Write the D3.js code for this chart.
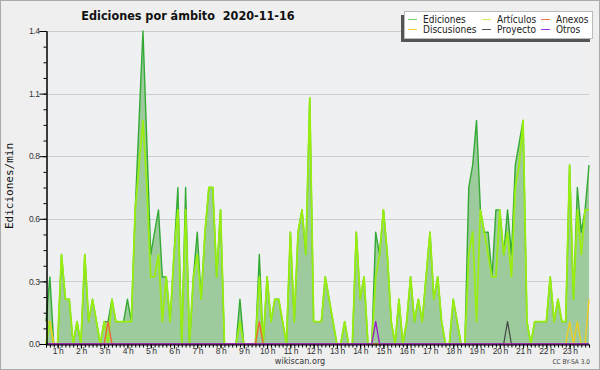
<!DOCTYPE html>
<html>
<head>
<meta charset="utf-8">
<script src="https://cdn.jsdelivr.net/npm/d3@7"></script>
<style>
  body { margin: 0; background: #fff; }
  svg { display: block; font-family: "DejaVu Sans Condensed", "DejaVu Sans", sans-serif; font-stretch: condensed; }
</style>
</head>
<body>
<svg id="chart"></svg>
<script>
// minutos desde medianoche del primer punto, paso de 10 min
const startMin = 30;
const stepMin = 10;

// Ediciones totales por minuto (una cada 10 min)
const ediciones = [
  0.1, 0.3, 0, 0, 0.4, 0.2, 0.2, 0, 0.1, 0,
  0.4, 0.1, 0.2, 0.1, 0, 0.1, 0.1, 0.2, 0.1, 0.1,
  0.1, 0.2, 0.1, 0.6, 1.0, 1.4, 0.9, 0.4, 0.5, 0.6,
  0.3, 0.3, 0.1, 0.4, 0.7, 0, 0.7, 0, 0.3, 0.5,
  0.2, 0.5, 0.7, 0.7, 0.3, 0.6, 0, 0, 0, 0,
  0.2, 0, 0, 0, 0, 0.4, 0, 0.3, 0.1, 0.2,
  0.2, 0.1, 0, 0.5, 0.1, 0.5, 0.6, 0.4, 1.1, 0.1,
  0.1, 0.1, 0.3, 0.2, 0.1, 0, 0, 0.1, 0, 0,
  0.5, 0.2, 0.3, 0, 0, 0.5, 0.4, 0.6, 0.4, 0.1,
  0, 0.2, 0, 0.1, 0.3, 0.1, 0.2, 0.1, 0.3, 0.5,
  0.2, 0.3, 0.1, 0, 0, 0.2, 0.1, 0, 0, 0.7,
  0.8, 1.0, 0.6, 0.5, 0.5, 0.3, 0.6, 0.6, 0.4, 0.6,
  0.4, 0.8, 0.9, 1.0, 0.1, 0, 0.1, 0.1, 0.1, 0.1,
  0.3, 0.1, 0.2, 0.1, 0.1, 0.8, 0.2, 0.7, 0.5, 0.6,
  0.8
];

const articulos = [
  0, 0.1, 0, 0, 0.4, 0.2, 0.2, 0, 0.1, 0,
  0.4, 0.1, 0.2, 0.1, 0, 0.1, 0, 0.2, 0.1, 0.1,
  0.1, 0.1, 0.1, 0.6, 0.8, 1.0, 0.7, 0.3, 0.3, 0.4,
  0.1, 0.3, 0.1, 0.4, 0.6, 0, 0.6, 0, 0.3, 0.4,
  0.2, 0.5, 0.7, 0.7, 0.3, 0.6, 0, 0, 0, 0,
  0.1, 0, 0, 0, 0, 0.3, 0, 0.3, 0.1, 0.2,
  0.2, 0.1, 0, 0.5, 0.1, 0.5, 0.6, 0.4, 1.1, 0.1,
  0.1, 0.1, 0.3, 0.2, 0.1, 0, 0, 0.1, 0, 0,
  0.5, 0.2, 0.3, 0, 0, 0.3, 0.4, 0.6, 0.4, 0.1,
  0, 0.2, 0, 0.1, 0.3, 0.1, 0.2, 0.1, 0.3, 0.5,
  0.2, 0.3, 0.1, 0, 0, 0.2, 0.1, 0, 0, 0.4,
  0.5, 0.1, 0.6, 0.5, 0.4, 0.3, 0.3, 0.6, 0.4, 0.5,
  0.3, 0.7, 0.8, 1.0, 0.1, 0, 0.1, 0.1, 0.1, 0.1,
  0.3, 0.1, 0.2, 0.1, 0.1, 0.8, 0.2, 0.6, 0.4, 0.6,
  0.6
];

// series pequeñas: [índice, valor]
const anexos = [[16, 0.1], [55, 0.1]];
const discusiones = [[0, 0.1], [1, 0.1], [135, 0.1], [137, 0.1], [140, 0.2]];
const proyecto = [[119, 0.1]];
const otros = [[85, 0.1]];

const yTicksMajor = [0, 0.28, 0.56, 0.84, 1.12, 1.4];
const hourLabels = d3.range(1, 24);

const legendItems = [
  { name: 'Ediciones', color: '#77cc77' },
  { name: 'Artículos', color: '#ccee55' },
  { name: 'Anexos', color: '#ee7744' },
  { name: 'Discusiones', color: '#ffcc33' },
  { name: 'Proyecto', color: '#555555' },
  { name: 'Otros', color: '#9933ee' }
];

const width = 600, height = 370;
const svg = d3.select('#chart').attr('width', width).attr('height', height);

// fondo y marco
svg.append('rect').attr('width', width).attr('height', height).attr('fill', '#efefef');
svg.append('rect').attr('x', 0.5).attr('y', 0.5).attr('width', width - 1).attr('height', height - 1)
  .attr('fill', 'none').attr('stroke', '#aaa');

const x = d3.scaleLinear().domain([startMin, startMin + stepMin * (ediciones.length - 1)]).range([46, 589]);
const y = d3.scaleLinear().domain([0, 1.4]).range([344, 31]);
const tOf = i => startMin + i * stepMin;

// fondo del área de trazado
svg.append('rect').attr('x', 46).attr('y', 31).attr('width', 543).attr('height', 313).attr('fill', '#eef0f2');

// rejilla
svg.append('g').selectAll('line').data(yTicksMajor.slice(1)).enter().append('line')
  .attr('x1', 46).attr('x2', 589)
  .attr('y1', d => Math.round(y(d)) + 0.5).attr('y2', d => Math.round(y(d)) + 0.5)
  .attr('stroke', '#cccccc');

// serie completa desde puntos sueltos
function fullSeries(points) {
  const arr = ediciones.map(() => 0);
  points.forEach(([i, v]) => arr[i] = v);
  return arr;
}

const area = d3.area().x((d, i) => x(tOf(i))).y0(y(0)).y1(d => y(d));
const line = d3.line().x((d, i) => x(tOf(i))).y(d => y(d));

svg.append('path').datum(ediciones).attr('d', area).attr('fill', '#9ecb9e');

function drawLine(data, color, w) {
  svg.append('path').datum(data).attr('d', line)
    .attr('fill', 'none').attr('stroke', color).attr('stroke-width', w)
    .attr('stroke-linejoin', 'round');
}

drawLine(ediciones, '#33aa33', 1.4);
drawLine(articulos, '#99ee11', 1.8);
drawLine(fullSeries(discusiones), '#eecc22', 1.4);
drawLine(fullSeries(anexos), '#ee6633', 1.4);
drawLine(fullSeries(proyecto), '#444444', 1.2);
drawLine(fullSeries(otros), '#9922cc', 1.4);

// eje Y
const yAxisG = svg.append('g').attr('transform', 'translate(46.5,0)');
yAxisG.call(d3.axisLeft(y).tickValues(d3.range(0, 21).map(k => k * 0.07)).tickSize(3).tickFormat(''));
yAxisG.append('g').call(d3.axisLeft(y).tickValues(yTicksMajor).tickSize(7).tickFormat(d3.format('.1f')));
yAxisG.selectAll('.domain').attr('stroke', '#000');
yAxisG.selectAll('line').attr('stroke', '#000');
yAxisG.selectAll('text').attr('font-size', 8.5).attr('fill', '#333').attr('x', -7)
  .attr('font-family', null).attr('letter-spacing', -0.4);

// eje X
const xAxisG = svg.append('g').attr('transform', 'translate(0,344.5)');
xAxisG.call(d3.axisBottom(x).tickValues(ediciones.map((d, i) => tOf(i))).tickSize(3).tickFormat(''));
xAxisG.selectAll('.domain').attr('stroke', '#000');
const xLab = svg.append('g').attr('transform', 'translate(0,344.5)');
xLab.call(d3.axisBottom(x).tickValues(hourLabels.map(h => h * 60)).tickSize(4).tickFormat(d => (d / 60) + ' h'));
xLab.select('.domain').remove();
xAxisG.selectAll('line').attr('stroke', '#000');
xLab.selectAll('line').attr('stroke', '#000');
xLab.selectAll('text').attr('font-size', 8.5).attr('fill', '#333').attr('y', 3)
  .attr('font-family', null).attr('letter-spacing', -0.4);

// título
svg.append('text').attr('x', 188).attr('y', 20).attr('text-anchor', 'middle')
  .attr('font-size', 12.5).attr('font-weight', 'bold').attr('fill', '#111')
  .style('white-space', 'pre')
  .text('Ediciones por ámbito  2020-11-16');

// etiqueta eje Y
svg.append('text').attr('transform', 'translate(13,186) rotate(-90)').attr('text-anchor', 'middle')
  .attr('font-size', 11).attr('font-family', '"DejaVu Sans Mono", monospace')
  .style('font-stretch', 'normal').attr('fill', '#111')
  .text('Ediciones/min');

// pie
svg.append('text').attr('x', 300).attr('y', 364).attr('text-anchor', 'middle')
  .attr('font-size', 9).attr('fill', '#333').text('wikiscan.org');
svg.append('text').attr('x', 590).attr('y', 364).attr('text-anchor', 'end')
  .attr('font-size', 6.5).attr('fill', '#444').text('CC BY-SA 3.0');

// leyenda
const lg = svg.append('g');
lg.append('rect').attr('x', 401).attr('y', 15).attr('width', 189).attr('height', 27).attr('fill', '#555');
lg.append('rect').attr('x', 404.5).attr('y', 11.5).attr('width', 188).attr('height', 27)
  .attr('fill', '#fff').attr('stroke', '#bbb');
const colX = [408, 482, 541];
const item = lg.selectAll('.legend-item').data(legendItems).enter().append('g')
  .attr('class', 'legend-item')
  .attr('transform', (d, i) => `translate(${colX[i % 3]},${i < 3 ? 19.5 : 29.5})`);
item.append('line').attr('x1', 0).attr('x2', 9).attr('stroke', d => d.color).attr('stroke-width', 1);
item.append('text').attr('x', 15).attr('y', 3.5).attr('font-size', 10).attr('fill', '#222')
  .text(d => d.name);
</script>
</body>
</html>
